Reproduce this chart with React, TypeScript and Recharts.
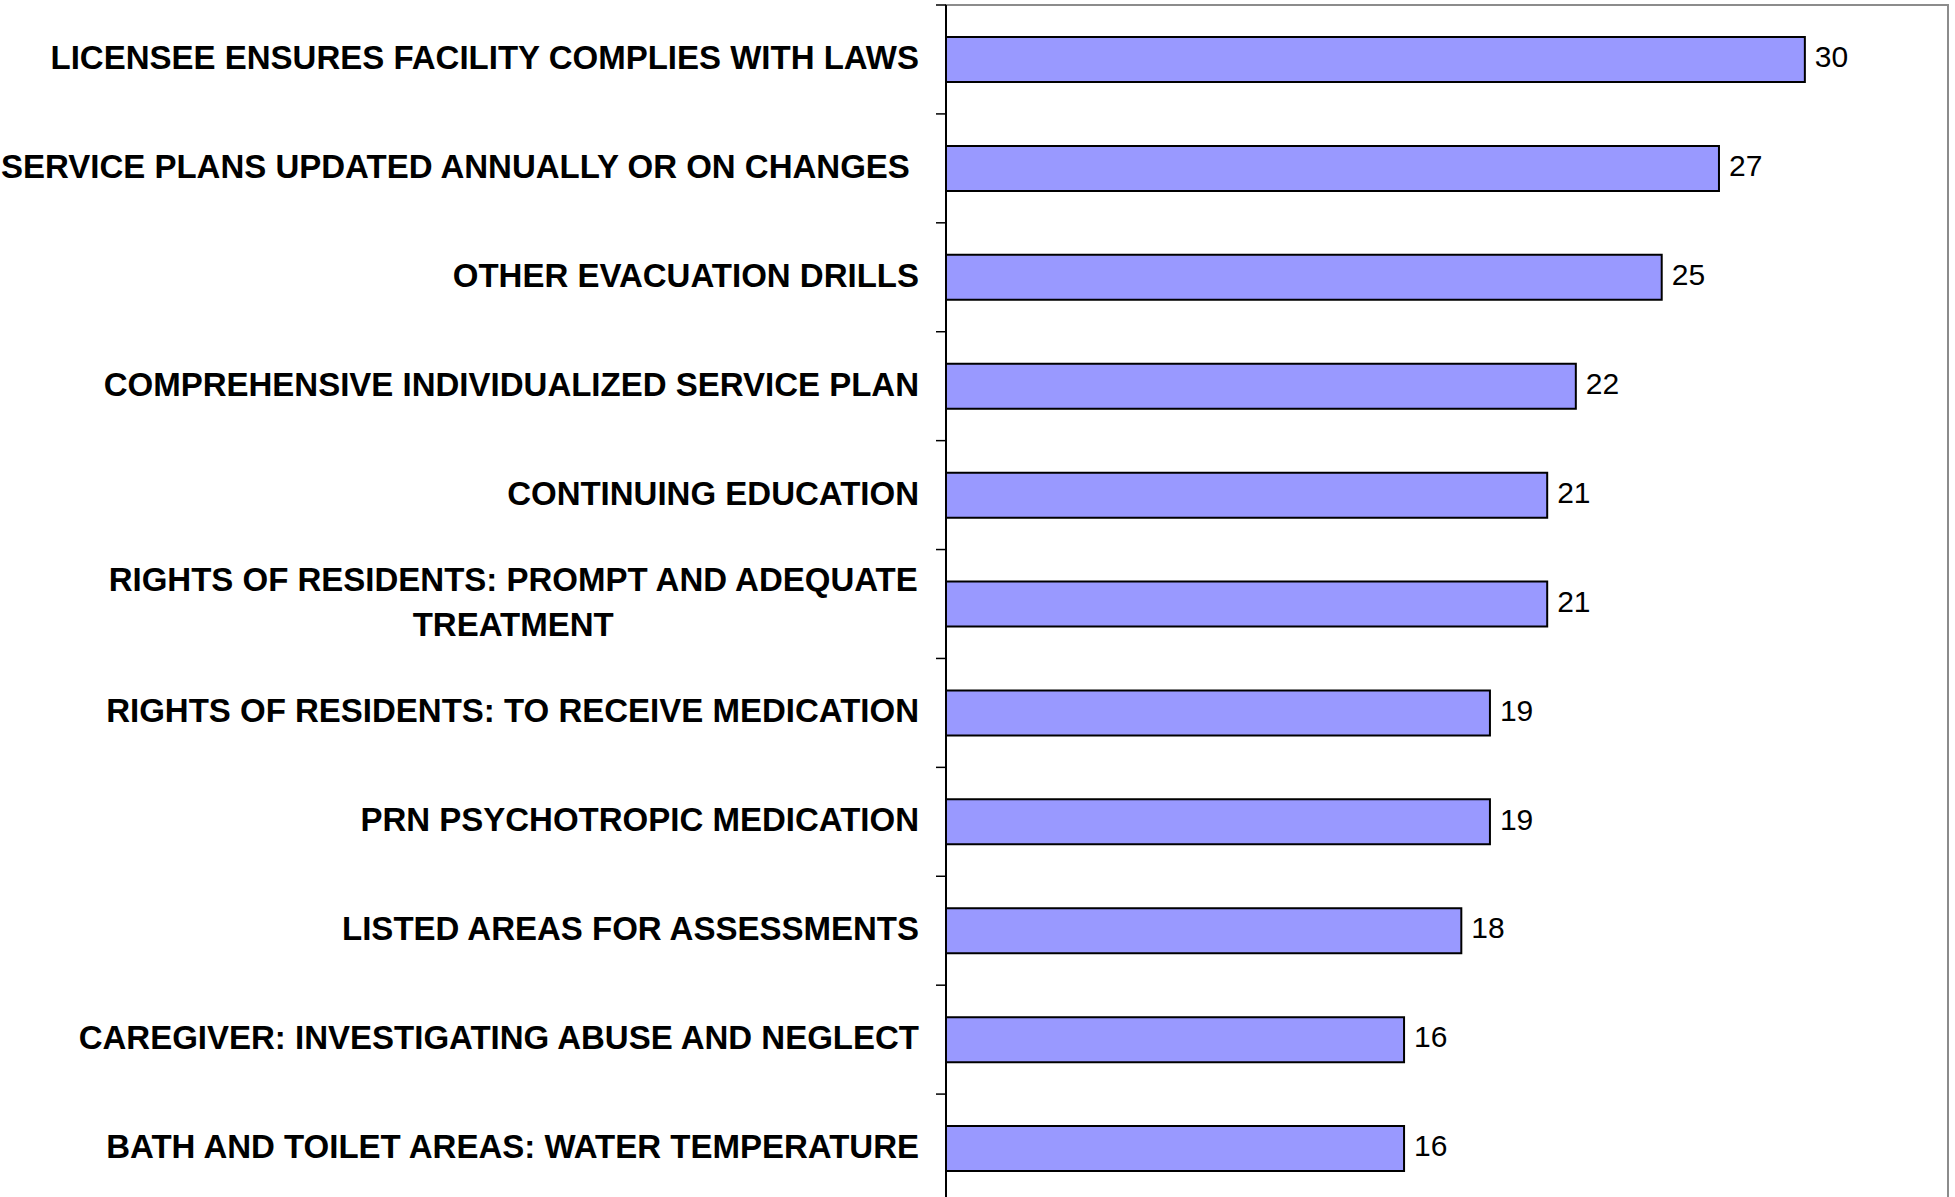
import React from 'react';
import { BarChart, Bar, XAxis, YAxis, LabelList, ReferenceArea } from 'recharts';

const categories: string[] = [
  'LICENSEE ENSURES FACILITY COMPLIES WITH LAWS',
  'SERVICE PLANS UPDATED ANNUALLY OR ON CHANGES ',
  'OTHER EVACUATION DRILLS',
  'COMPREHENSIVE INDIVIDUALIZED SERVICE PLAN',
  'CONTINUING EDUCATION',
  'RIGHTS OF RESIDENTS: PROMPT AND ADEQUATE\nTREATMENT',
  'RIGHTS OF RESIDENTS: TO RECEIVE MEDICATION',
  'PRN PSYCHOTROPIC MEDICATION',
  'LISTED AREAS FOR ASSESSMENTS',
  'CAREGIVER: INVESTIGATING ABUSE AND NEGLECT',
  'BATH AND TOILET AREAS: WATER TEMPERATURE',
];

const counts: number[] = [30, 27, 25, 22, 21, 21, 19, 19, 18, 16, 16];

const xDomain: [number, number] = [0, 35];

const data = categories.map((name, i) => ({ name, value: counts[i] }));

const FONT = '"Liberation Sans", Arial, sans-serif';
const LABEL_FONT_SIZE = 33;
const CHART_W = 1955;
const CHART_H = 1215;
const MARGIN = { top: 5, right: 7, bottom: 12, left: 0 };
const BAND = (CHART_H - MARGIN.top - MARGIN.bottom) / categories.length;

let measureCtx: CanvasRenderingContext2D | null = null;
function measure(text: string): number {
  if (!measureCtx) {
    const c = document.createElement('canvas');
    measureCtx = c.getContext('2d');
  }
  if (!measureCtx) return text.length * LABEL_FONT_SIZE * 0.6;
  measureCtx.font = `bold ${LABEL_FONT_SIZE}px "Liberation Sans", Arial, sans-serif`;
  return measureCtx.measureText(text).width;
}

const CatTick = (props: any) => {
  const { x, y, payload, index } = props;
  const half = payload && payload.offset ? payload.offset : BAND / 2;
  const lines = String(payload.value).split('\n');
  const isLast = index === categories.length - 1;
  const tickX1 = x + 17;
  const tickX2 = x + 27;
  return (
    <g>
      <line x1={tickX1} x2={tickX2} y1={y - half} y2={y - half} stroke="#000" strokeWidth={1.5} />
      {isLast && (
        <line x1={tickX1} x2={tickX2} y1={y + half} y2={y + half} stroke="#000" strokeWidth={1.5} />
      )}
      {lines.length === 1 ? (
        <text
          x={x}
          y={y - 2}
          textAnchor="end"
          dominantBaseline="central"
          fontFamily={FONT}
          fontWeight="bold"
          fontSize={LABEL_FONT_SIZE}
          fill="#000"
          style={{ whiteSpace: 'pre' }}
        >
          {lines[0]}
        </text>
      ) : (
        (() => {
          const w = measure(lines[0]);
          const cx = x - w / 2;
          return (
            <g>
              <text
                x={cx}
                y={y - 25}
                textAnchor="middle"
                dominantBaseline="central"
                fontFamily={FONT}
                fontWeight="bold"
                fontSize={LABEL_FONT_SIZE}
                fill="#000"
              >
                {lines[0]}
              </text>
              <text
                x={cx}
                y={y + 20}
                textAnchor="middle"
                dominantBaseline="central"
                fontFamily={FONT}
                fontWeight="bold"
                fontSize={LABEL_FONT_SIZE}
                fill="#000"
              >
                {lines[1]}
              </text>
            </g>
          );
        })()
      )}
    </g>
  );
};

export default function App() {
  return (
    <div
      style={{
        position: 'absolute',
        left: 0,
        top: 0,
        width: CHART_W,
        height: 1197,
        overflow: 'hidden',
        background: '#fff',
      }}
    >
      <BarChart
        width={CHART_W}
        height={CHART_H}
        data={data}
        layout="vertical"
        margin={MARGIN}
      >
        <XAxis type="number" domain={xDomain} hide allowDataOverflow />
        <YAxis
          type="category"
          dataKey="name"
          width={946}
          interval={0}
          axisLine={{ stroke: '#000', strokeWidth: 2 }}
          tickLine={false}
          tickSize={0}
          tickMargin={27}
          tick={<CatTick />}
        />
        <ReferenceArea
          x1={xDomain[0]}
          x2={xDomain[1]}
          stroke="#8c8c8c"
          strokeWidth={2}
          fill="none"
          fillOpacity={0}
          ifOverflow="visible"
        />
        <Bar
          dataKey="value"
          fill="#9999FF"
          stroke="#000"
          strokeWidth={2}
          barSize={45}
          isAnimationActive={false}
        >
          <LabelList
            dataKey="value"
            position="right"
            offset={10}
            fontSize={30}
            fill="#000"
            fontFamily={FONT}
            dy={-3}
          />
        </Bar>
      </BarChart>
    </div>
  );
}
